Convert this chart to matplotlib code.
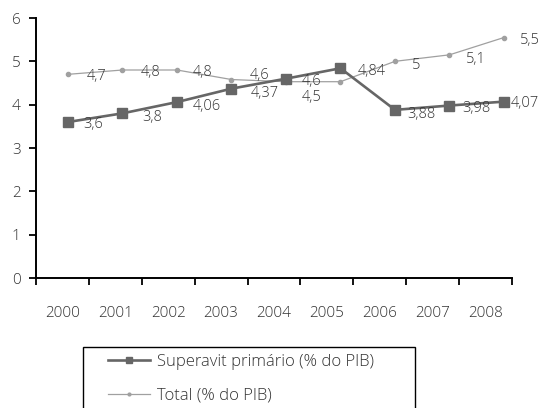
import matplotlib.pyplot as plt
import numpy as np
from matplotlib.lines import Line2D
from matplotlib.patches import Rectangle

years = ["2000", "2001", "2002", "2003", "2004", "2005", "2006", "2007", "2008"]
superavit = [3.6, 3.8, 4.06, 4.37, 4.6, 4.84, 3.88, 3.98, 4.07]
total = [4.7, 4.8, 4.8, 4.58, 4.53, 4.53, 5.0, 5.15, 5.55]

# label text per point (None = no label shown)
superavit_labels = ["3,6", "3,8", "4,06", "4,37", "4,6", "4,84", "3,88", "3,98", "4,07"]
total_labels = ["4,7", "4,8", "4,8", "4,6", "4,5", None, "5", "5,1", "5,5"]

# label offsets in pixels (dx, dy), dy positive = up
sup_off = [(25, -3), (30, -4), (30, -4), (33, -5), (26, -3), (31, -3), (26, -5), (27, -3), (21, -2)]
tot_off = [(29, -2), (28, -2), (26, -2), (28, 4), (26, -16), (0, 0), (21, -4), (26, -5), (26, -3)]

plt.rc("font", family=["Open Sans", "DejaVu Sans"], size=11, weight="light")
txt = "#333333"

fig = plt.figure(figsize=(5.39, 4.08), dpi=100)
ax = fig.add_axes([36 / 539, 1 - 278 / 408, 476 / 539, 260 / 408])

x = np.arange(len(years))
ax.plot(x, total, color="#a0a0a0", lw=0.9, marker="o", ms=3, zorder=2)
ax.plot(x, superavit, color="#666666", lw=1.9, marker="s", ms=6.5, zorder=3)

for i in range(len(years)):
    ax.annotate(superavit_labels[i], (x[i], superavit[i]), xytext=sup_off[i],
                textcoords="offset pixels", ha="center", va="center", color=txt,
                fontsize=10.5)
    if total_labels[i] is not None:
        ax.annotate(total_labels[i], (x[i], total[i]), xytext=tot_off[i],
                    textcoords="offset pixels", ha="center", va="center", color=txt,
                    fontsize=10.5)

xlo, xhi = -0.587, 8.147
ax.set_xlim(xlo, xhi)
ax.set_ylim(0, 6)
edges = np.linspace(xlo, xhi, len(years) + 1)
ax.set_xticks(edges)
ax.set_xticklabels([])
ax.set_xticks((edges[:-1] + edges[1:]) / 2, minor=True)
ax.set_xticklabels(years, minor=True)
ax.tick_params(axis="x", which="major", direction="out", length=5, width=1.3)
ax.tick_params(axis="x", which="minor", length=0, pad=20, labelcolor=txt)
ax.set_yticks(range(7))
ax.tick_params(axis="y", direction="out", length=5, width=1.3, pad=6, labelcolor=txt)

for s in ["top", "right"]:
    ax.spines[s].set_visible(False)
for s in ["left", "bottom"]:
    ax.spines[s].set_linewidth(1.4)

# legend box (runs off the bottom of the figure, as in the original)
fig.patches.append(Rectangle((83 / 539, -0.1), 332 / 539, 1.1 - 347 / 408,
                             transform=fig.transFigure, fill=False,
                             edgecolor="black", lw=1.0))

handles = [
    Line2D([], [], color="#666666", lw=1.9, marker="s", ms=4.5),
    Line2D([], [], color="#a0a0a0", lw=0.9, marker="o", ms=2),
]
fig.legend(handles, ["Superavit primário (% do PIB)", "Total (% do PIB)"],
           loc="upper left", bbox_to_anchor=(108 / 539, 1 - 354 / 408),
           frameon=False, borderaxespad=0, borderpad=0, fontsize=12,
           handlelength=2.5, handletextpad=0.45, labelspacing=1.05,
           labelcolor=txt)

fig.savefig("out.png", dpi=100)
